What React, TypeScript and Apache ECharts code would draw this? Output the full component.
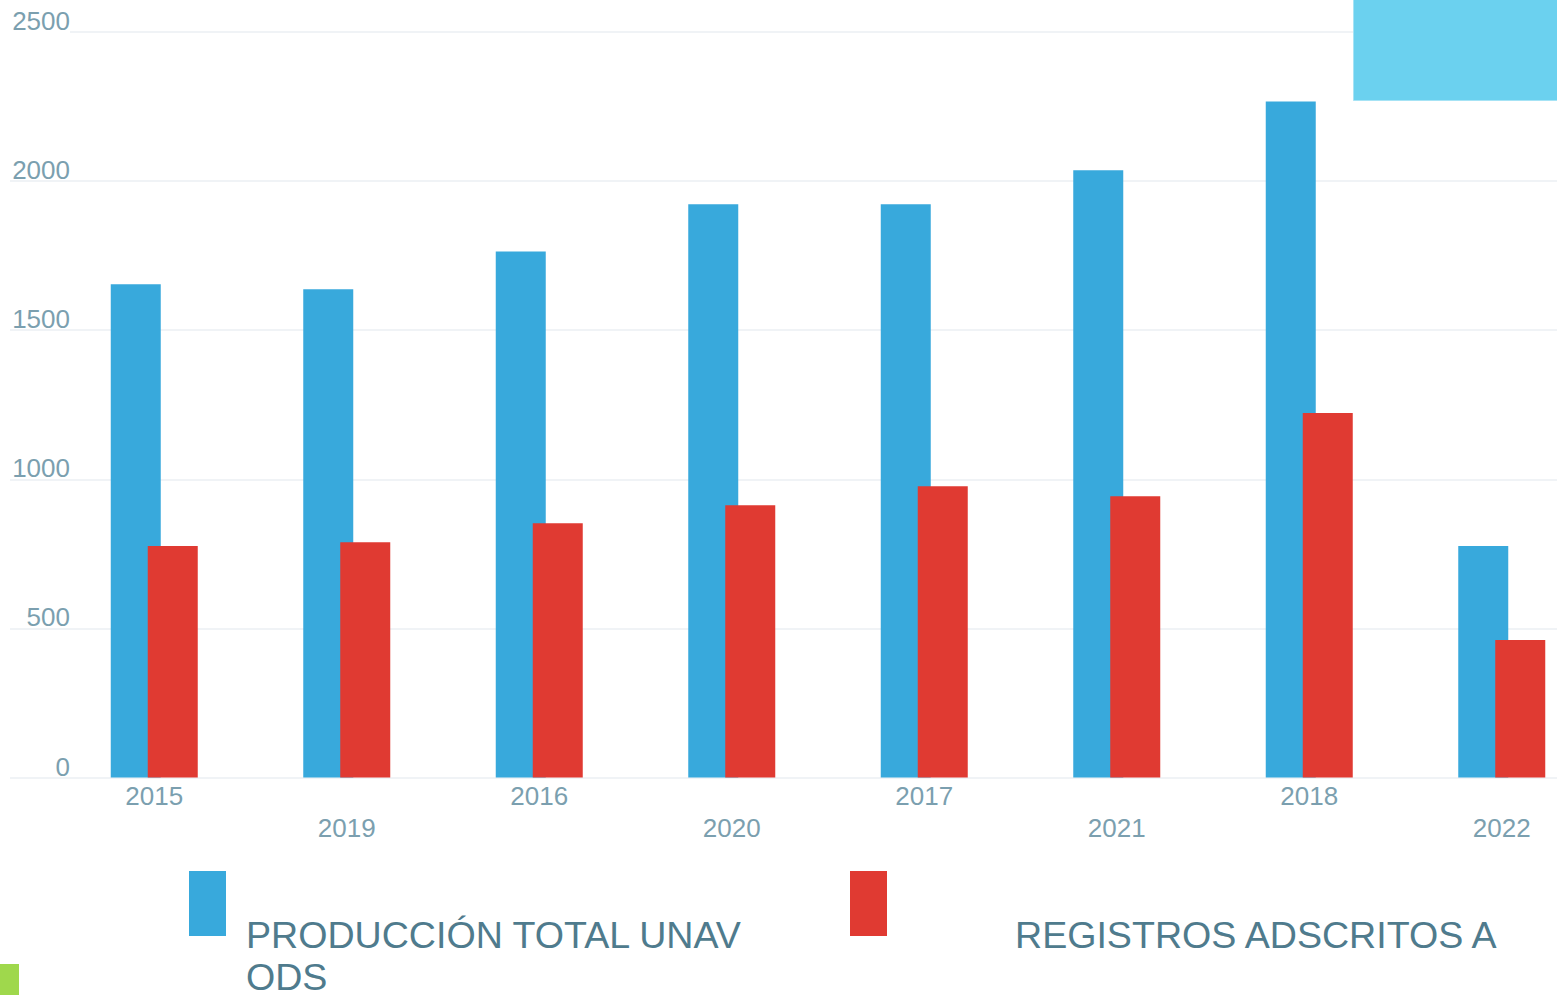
import React, { useEffect, useRef } from "react";
import * as echarts from "echarts";

const categories = ["2015", "2019", "2016", "2020", "2017", "2021", "2018", "2022"];
const produccionTotal = [1654, 1637, 1764, 1922, 1922, 2036, 2267, 776];
const registrosOds = [776, 789, 853, 913, 977, 943, 1222, 461];
const seriesNames = ["PRODUCCIÓN TOTAL UNAV", "REGISTROS ADSCRITOS A ODS"];
const yTicks = { min: 0, max: 2500, interval: 500 };

const BLUE = "#38a9dc";
const RED = "#e03a32";
const LABEL = "#7b9faf";
const LEGEND_TEXT = "#4f7b8d";
const FONT = "'Liberation Sans', Arial, sans-serif";

export default function App() {
  const ref = useRef<HTMLDivElement>(null);

  useEffect(() => {
    if (!ref.current) return;
    const chart = echarts.init(ref.current, undefined, { renderer: "svg" });
    const option = {
      animation: false,
      backgroundColor: "#ffffff",
      grid: [
        { left: 10, right: 0, top: 32, bottom: 217.5, outerBoundsMode: "none" },
        { left: 58, right: -41, top: 32, bottom: 217.5, outerBoundsMode: "none" },
      ],
      xAxis: [
        { type: "value", gridIndex: 0, show: false, min: 0, max: 1 },
        {
          type: "category",
          gridIndex: 1,
          data: categories,
          axisLine: { show: false },
          axisTick: { show: false },
          axisLabel: {
            interval: 0,
            margin: 2,
            fontSize: 26,
            lineHeight: 32,
            color: LABEL,
            fontFamily: FONT,
            formatter: (v: string, i: number) => (i % 2 === 1 ? "\n" + v : v),
          },
        },
      ],
      yAxis: [
        {
          type: "value",
          gridIndex: 0,
          min: yTicks.min,
          max: yTicks.max,
          interval: yTicks.interval,
          axisLine: { show: false },
          axisTick: { show: false },
          splitLine: { lineStyle: { color: "#ebeff3", width: 1.5 } },
          axisLabel: {
            inside: true,
            align: "right",
            margin: 60,
            verticalAlign: "bottom",
            lineHeight: 22,
            fontSize: 26,
            color: LABEL,
            fontFamily: FONT,
            formatter: (v: number) => String(v),
          },
        },
        {
          type: "value",
          gridIndex: 1,
          min: yTicks.min,
          max: yTicks.max,
          interval: yTicks.interval,
          show: false,
          splitLine: { show: false },
        },
      ],
      series: [
        {
          name: seriesNames[0],
          type: "bar",
          xAxisIndex: 1,
          yAxisIndex: 1,
          data: produccionTotal,
          barWidth: 50,
          barGap: "-26%",
          itemStyle: { color: BLUE },
        },
        {
          name: seriesNames[1],
          type: "bar",
          xAxisIndex: 1,
          yAxisIndex: 1,
          data: registrosOds,
          barWidth: 50,
          barGap: "-26%",
          itemStyle: { color: RED },
        },
      ],
      graphic: [
        { type: "rect", shape: { x: 10, y: 30, width: 60, height: 5 }, style: { fill: "#ffffff" }, z: 5 },
        {
          type: "rect",
          shape: { x: 1353.5, y: -1, width: 205, height: 101.5 },
          style: { fill: "#6bd1ef", stroke: "#a6e3f5", lineWidth: 1 },
          z: 10,
        },
        { type: "rect", shape: { x: 0, y: 964, width: 19, height: 31 }, style: { fill: "#9fd84c" }, z: 10 },
        { type: "rect", shape: { x: 189, y: 871, width: 37, height: 65 }, style: { fill: BLUE }, z: 10 },
        { type: "rect", shape: { x: 850, y: 871, width: 37, height: 65 }, style: { fill: RED }, z: 10 },
        {
          type: "text",
          x: 246,
          y: 935,
          style: {
            text: "PRODUCCIÓN TOTAL UNAV",
            fill: LEGEND_TEXT,
            font: "37.6px " + FONT,
            verticalAlign: "middle",
            align: "left",
          },
          z: 10,
        },
        {
          type: "text",
          x: 246,
          y: 977,
          style: { text: "ODS", fill: LEGEND_TEXT, font: "37.6px " + FONT, verticalAlign: "middle", align: "left" },
          z: 10,
        },
        {
          type: "text",
          x: 1015,
          y: 935,
          style: {
            text: "REGISTROS ADSCRITOS A",
            fill: LEGEND_TEXT,
            font: "37.6px " + FONT,
            verticalAlign: "middle",
            align: "left",
          },
          z: 10,
        },
      ],
    };
    chart.setOption(option as any);
    return () => chart.dispose();
  }, []);

  return (
    <div
      ref={ref}
      style={{ position: "fixed", left: 0, top: 0, width: 1557, height: 995, background: "#fff" }}
    />
  );
}
